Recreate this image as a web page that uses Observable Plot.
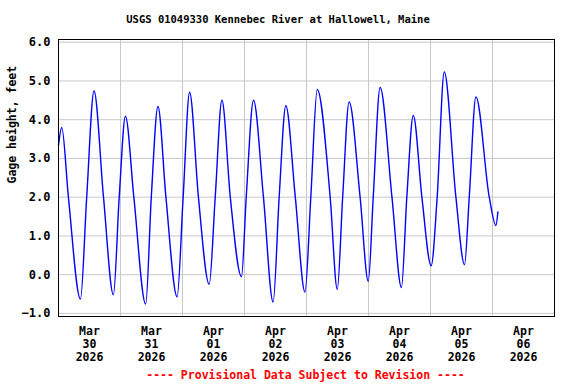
<!DOCTYPE html>
<html>
<head>
<meta charset="utf-8">
<script src="https://cdn.jsdelivr.net/npm/d3@7"></script>
<script src="https://cdn.jsdelivr.net/npm/@observablehq/plot@0.6"></script>
<style>
  html, body { margin: 0; padding: 0; background: #fff; }
</style>
</head>
<body>
<div id="chart"></div>
<script>
// ---- Data (gage height, feet) ----
const times = [
  "2026-03-30 00:00", "2026-03-30 01:15", "2026-03-30 03:50", "2026-03-30 08:30",
  "2026-03-30 10:55", "2026-03-30 13:45", "2026-03-30 17:25", "2026-03-30 21:15",
  "2026-03-30 23:30", "2026-03-31 01:55", "2026-03-31 05:10", "2026-03-31 09:45",
  "2026-03-31 11:55", "2026-03-31 14:30", "2026-03-31 17:35", "2026-03-31 21:55",
  "2026-04-01 00:15", "2026-04-01 02:45", "2026-04-01 06:10", "2026-04-01 10:20",
  "2026-04-01 12:40", "2026-04-01 15:15", "2026-04-01 18:30", "2026-04-01 22:50",
  "2026-04-02 00:40", "2026-04-02 03:30", "2026-04-02 07:20", "2026-04-02 11:05",
  "2026-04-02 13:25", "2026-04-02 16:00", "2026-04-02 19:40", "2026-04-02 23:25",
  "2026-04-03 01:40", "2026-04-03 04:10", "2026-04-03 09:10", "2026-04-03 11:55",
  "2026-04-03 14:00", "2026-04-03 16:30", "2026-04-03 20:45", "2026-04-03 23:55",
  "2026-04-04 01:50", "2026-04-04 04:30", "2026-04-04 09:05", "2026-04-04 12:45",
  "2026-04-04 14:50", "2026-04-04 17:20", "2026-04-04 20:40", "2026-04-05 00:15",
  "2026-04-05 02:35", "2026-04-05 05:20", "2026-04-05 09:50", "2026-04-05 13:10",
  "2026-04-05 15:00", "2026-04-05 17:35", "2026-04-05 22:45", "2026-04-06 01:20",
  "2026-04-06 02:05"
];
const heights = [
  3.34, 3.80, 2.00, -0.63,
  2.00, 4.74, 2.00, -0.52,
  2.00, 4.09, 2.00, -0.76,
  2.00, 4.34, 2.00, -0.57,
  2.00, 4.71, 2.00, -0.25,
  2.00, 4.50, 2.00, -0.05,
  2.00, 4.50, 2.00, -0.71,
  2.00, 4.36, 2.00, -0.45,
  2.00, 4.78, 2.00, -0.38,
  2.00, 4.46, 2.00, -0.17,
  2.00, 4.83, 2.00, -0.33,
  2.00, 4.11, 2.00, 0.23,
  2.00, 5.23, 2.00, 0.26,
  2.00, 4.59, 2.00, 1.27,
  1.62
];

// Axis labels
const dayTicks = ["2026-03-30 12:00", "2026-03-31 12:00", "2026-04-01 12:00", "2026-04-02 12:00",
                  "2026-04-03 12:00", "2026-04-04 12:00", "2026-04-05 12:00", "2026-04-06 12:00"];
const dayMonths = ["Mar", "Mar", "Apr", "Apr", "Apr", "Apr", "Apr", "Apr"];
const dayNumbers = ["30", "31", "01", "02", "03", "04", "05", "06"];
const dayYears = ["2026", "2026", "2026", "2026", "2026", "2026", "2026", "2026"];
const dayBounds = ["2026-03-31 00:00", "2026-04-01 00:00", "2026-04-02 00:00", "2026-04-03 00:00",
                   "2026-04-04 00:00", "2026-04-05 00:00", "2026-04-06 00:00"];
const yTicks = [-1, 0, 1, 2, 3, 4, 5, 6];
const xDomain = ["2026-03-30 00:00", "2026-04-07 00:00"];
const yDomain = [-1.08, 6.07];

const titleText = "USGS 01049330 Kennebec River at Hallowell, Maine";
const yLabelText = "Gage height, feet";
const noteText = "---- Provisional Data Subject to Revision ----";

// ---- Build ----
const parse = d3.utcParse("%Y-%m-%d %H:%M");
const series = times.map((t, i) => ({date: parse(t), value: heights[i]}));
const ticks = dayTicks.map((t, i) => ({date: parse(t), label: `${dayMonths[i]}\n${dayNumbers[i]}\n${dayYears[i]}`}));
const bounds = dayBounds.map(parse);

const FONT = "'DejaVu Sans Mono', 'Liberation Mono', monospace";

const chart = Plot.plot({
  width: 576,
  height: 384,
  marginLeft: 58,
  marginRight: 22,
  marginTop: 39,
  marginBottom: 68,
  style: {fontFamily: FONT, fontWeight: "bold", background: "#fff", color: "#000"},
  x: {type: "utc", domain: xDomain.map(parse), axis: null},
  y: {domain: yDomain, axis: null},
  marks: [
    Plot.gridY(yTicks, {stroke: "#c8c8c8", strokeOpacity: 1, strokeWidth: 1}),
    Plot.gridX(bounds, {stroke: "#c8c8c8", strokeOpacity: 1, strokeWidth: 1}),
    Plot.axisY(yTicks, {tickSize: 0, tickPadding: 8, tickFormat: d3.format(".1f"), fontSize: 12, fontWeight: "bold", label: null}),
    Plot.line(series, {x: "date", y: "value", stroke: "#0000ff", strokeWidth: 1.4, curve: "monotone-x"}),
    Plot.frame({stroke: "#000", strokeWidth: 1}),
    Plot.text(ticks, {x: "date", text: "label", frameAnchor: "bottom", dy: 9.5, lineAnchor: "top",
                      lineHeight: 1.11, fontSize: 11.5, fontWeight: "bold", fill: "#000"}),
    Plot.text([titleText], {frameAnchor: "top", dx: -28.5, dy: -20, lineAnchor: "middle",
                            fontSize: 10.5, fontWeight: "bold", fill: "#000"}),
    Plot.text([noteText], {frameAnchor: "bottom", dx: -1, dy: 59, lineAnchor: "middle",
                           fontSize: 11.5, fontWeight: "bold", fill: "#ff0000"}),
    Plot.text([yLabelText], {frameAnchor: "left", dx: -46, dy: 5.5, rotate: -90, lineAnchor: "middle",
                             fontSize: 11.5, fontWeight: "bold", fill: "#000"})
  ]
});
document.getElementById("chart").appendChild(chart);
</script>
</body>
</html>
